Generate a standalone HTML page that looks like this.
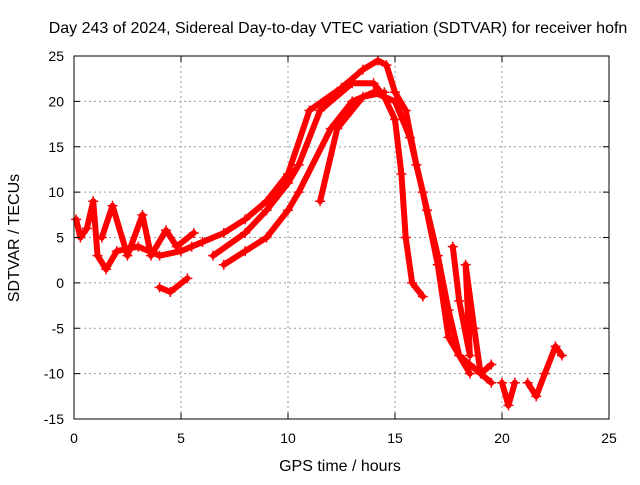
<!DOCTYPE html>
<html><head><meta charset="utf-8"><style>
body{margin:0;background:#fff;}
svg text{font-family:"Liberation Sans",sans-serif;font-size:14px;fill:#000;}
svg text.big{font-size:16px;}
</style></head><body>
<svg id="chart" width="640" height="480">
<text class="big" x="338" y="33" text-anchor="middle">Day 243 of 2024, Sidereal Day-to-day VTEC variation (SDTVAR) for receiver hofn</text>
<g id="grid"></g>
<g id="series"></g>
<rect x="74" y="56" width="535" height="363" fill="none" stroke="#000" stroke-width="1"/>
<g id="axes"></g>
<text class="big" x="340" y="471" text-anchor="middle">GPS time / hours</text>
<text class="big" transform="translate(19,238) rotate(-90)" text-anchor="middle">SDTVAR / TECUs</text>
</svg>
<script>
const xTicks=[0,5,10,15,20,25];
const yTicks=[-15,-10,-5,0,5,10,15,20,25];
const arcAx=[5.5,7,8,9,10,11,12.5,13.5,14.2,14.6,15,15.5,16,16.5,17,17.5,18,18.5];
const arcAy=[4,5.5,7,9,12,19,21.5,23.5,24.5,24,21,19,13,8,3,-3,-8,-10];
const arcBx=[6.5,8,9,10,10.5,11.5,13,14,14.5,15,15.3,15.5,15.8,16.3];
const arcBy=[3,5.5,8,11,13,19,22,22,20.5,18,12,5,0,-1.5];
const arcCx=[7,8,9,10,10.5,12,13,14,15,15.7,16.3,17,17.5,18,18.5,19.5];
const arcCy=[2,3.5,5,8,10,17,20,21,20,16,10,2,-6,-8,-9,-11];
const arcDx=[11.5,12.3,13.5,14.5];
const arcDy=[9,17,20.5,21];
const arcEx=[4,4.5,5.3];
const arcEy=[-0.5,-1,0.5];
const arcFx=[0.1,0.3,0.6,0.9,1.1,1.5,2,3,4,5,6];
const arcFy=[7,5,6,9,3,1.5,3.5,4,3,3.5,4.5];
const arcGx=[1.3,1.8,2.5,3.2,3.6,4.3,4.8,5.6];
const arcGy=[5,8.5,3,7.5,3,5.8,4,5.5];
const arcHx=[17.7,18,18.5,18.3,18.7,19,19.5];
const arcHy=[4,-2,-8,2,-5,-10,-9];
const arcIx=[20,20.3,20.6];
const arcIy=[-11,-13.5,-11];
const arcJx=[21.2,21.6,22,22.5,22.8];
const arcJy=[-11,-12.5,-10,-7,-8];
const arcs=[[arcAx,arcAy],[arcBx,arcBy],[arcCx,arcCy],[arcDx,arcDy],[arcEx,arcEy],[arcFx,arcFy],[arcGx,arcGy],[arcHx,arcHy],[arcIx,arcIy],[arcJx,arcJy]];
const NS="http://www.w3.org/2000/svg";
function sx(v){return 74+(v-0)*535/25;}
function sy(v){return 419-(v+15)*363/40;}
function mk(t,a,p){const e=document.createElementNS(NS,t);for(const k in a)e.setAttribute(k,a[k]);p.appendChild(e);return e;}
const grid=document.getElementById('grid'),axes=document.getElementById('axes'),ser=document.getElementById('series');
xTicks.forEach(v=>{
 const x=sx(v);
 if(v>0&&v<25){const l=mk('line',{x1:x,x2:x,y1:56,y2:419,stroke:'#999','stroke-dasharray':'2,3'},grid);}
 const t=mk('line',{x1:x,x2:x,y1:419,y2:413,stroke:'#000'},axes);
 mk('line',{x1:x,x2:x,y1:56,y2:62,stroke:'#000'},axes);
 const tx=mk('text',{x:x,y:443,'text-anchor':'middle'},axes);tx.textContent=v;
 
});
yTicks.forEach(v=>{
 const y=sy(v);
 if(v>-15&&v<25){const l=mk('line',{x1:74,x2:609,y1:y,y2:y,stroke:'#999','stroke-dasharray':'2,3'},grid);}
 const t=mk('line',{x1:74,x2:80,y1:y,y2:y,stroke:'#000'},axes);
 mk('line',{x1:603,x2:609,y1:y,y2:y,stroke:'#000'},axes);
 const tx=mk('text',{x:64,y:y+5,'text-anchor':'end'},axes);tx.textContent=v;
 
});
arcs.forEach(([xs,ys])=>{
 const pts=xs.map((x,i)=>sx(x)+','+sy(ys[i])).join(' ');
 const pl=mk('polyline',{points:pts,fill:'none',stroke:'#f00','stroke-width':6,'stroke-linejoin':'round','stroke-linecap':'round'},ser);
 
 
 xs.forEach((x,i)=>{
  const cx=sx(x),cy=sy(ys[i]);
  const p=mk('path',{d:`M${cx-5},${cy}H${cx+5}M${cx},${cy-5}V${cy+5}`,stroke:'#f00','stroke-width':1.5},ser);
  
  
 });
});
</script>
</body></html>
